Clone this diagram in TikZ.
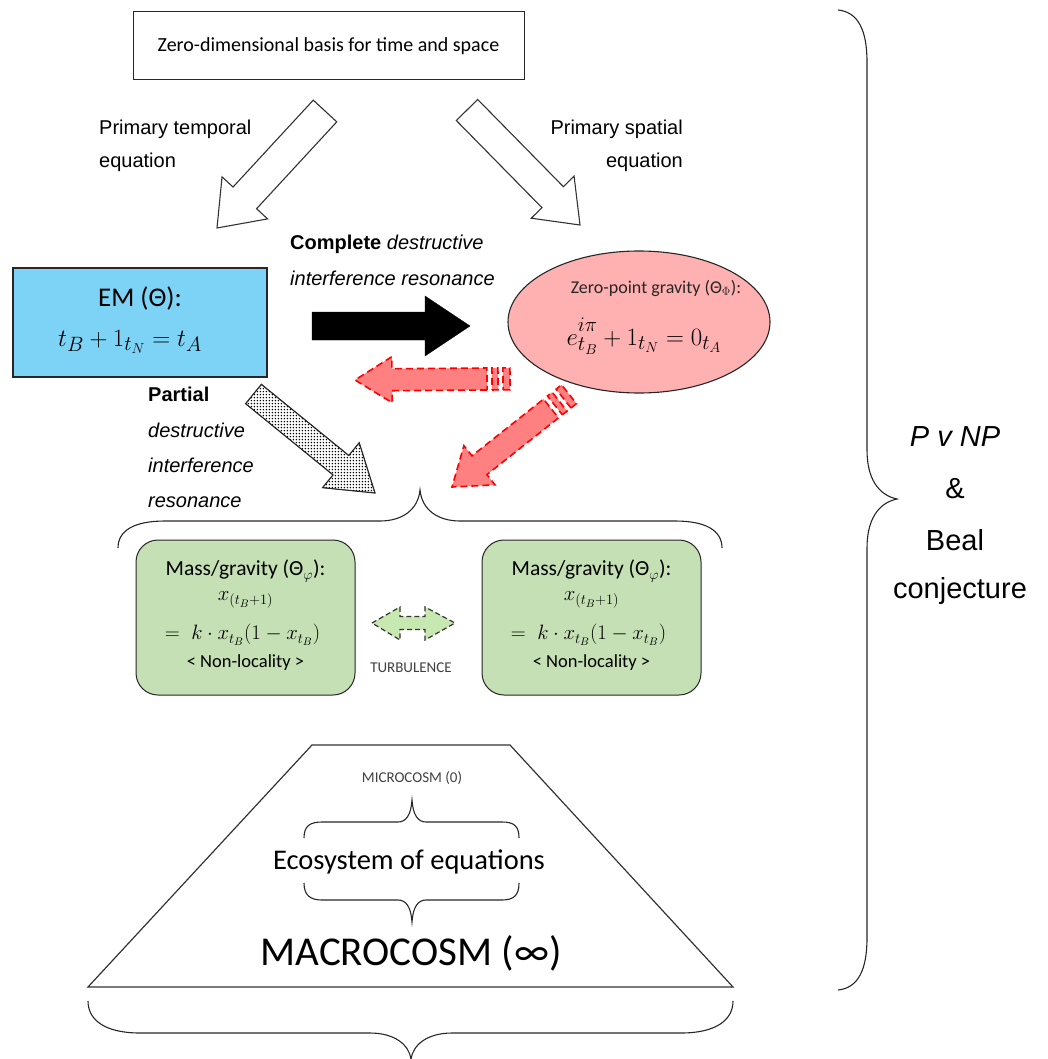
\documentclass[tikz,border=0pt]{standalone}
\usepackage{fontspec}
\setmainfont{Carlito}
\newfontfamily\arialf{Liberation Sans}
\usetikzlibrary{calc,patterns.meta,shapes.geometric}
\definecolor{emblue}{RGB}{125,211,245}
\definecolor{zpink}{RGB}{255,176,176}
\definecolor{mgreen}{RGB}{197,224,180}
\definecolor{rfill}{RGB}{255,128,128}
\definecolor{tgreen}{RGB}{200,232,178}
\definecolor{rline}{RGB}{255,0,0}
\tikzdeclarepattern{
  name=coarsedots,
  type=uncolored,
  bounding box={(0pt,0pt) and (3.4pt,3.4pt)},
  tile size={(3.4pt,3.4pt)},
  code={\fill (1.7pt,1.7pt) circle (0.9pt);}
}
% block arrow: #1 tail, #2 tip, #3 half shaft, #4 half head, #5 head length, #6 style
\newcommand{\blockarr}[6]{%
  \draw[#6] ($(#1)!#3!90:(#2)$) -- ($(#2)!#5!(#1)!#3!-90:(#1)$) -- ($(#2)!#5!(#1)!#4!-90:(#1)$)
    -- (#2) -- ($(#2)!#5!(#1)!#4!90:(#1)$) -- ($(#2)!#5!(#1)!#3!90:(#1)$)
    -- ($(#1)!#3!-90:(#2)$) -- cycle;}
% stripe behind tail: #1 tail, #2 tip, #3 d1, #4 d2, #5 half width, #6 style
\newcommand{\stripebar}[6]{%
  \draw[#6] ($(#1)!-#3!(#2)!#5!90:(#2)$) -- ($(#1)!-#4!(#2)!#5!90:(#2)$)
    -- ($(#1)!-#4!(#2)!#5!-90:(#2)$) -- ($(#1)!-#3!(#2)!#5!-90:(#2)$) -- cycle;}
\tikzset{
  hollow/.style={draw=black!80, line width=1.1pt, fill=white, line join=miter},
  redarr/.style={draw=rline, fill=rfill, line width=1.6pt, dash pattern=on 7pt off 4pt},
  lbl/.style={font=\arialf\fontsize{20}{24}\selectfont, inner sep=0pt, text height=14pt, text depth=5pt},
  rlbl/.style={font=\arialf\fontsize{29}{34}\selectfont, inner sep=0pt},
  gtxt/.style={inner sep=0pt, font=\fontsize{21.5}{25}\selectfont},
  gbox/.style={draw=black!85, line width=1pt, fill=mgreen, rounded corners=22pt, minimum width=219pt, minimum height=155pt},
  brace/.style={draw=black!85, line width=1.1pt},
}
\begin{document}
\begin{tikzpicture}[x=1pt, y=-1pt]
\useasboundingbox (0,0) rectangle (1047,1059);

% top box
\node[draw=black!85, line width=1pt, minimum width=391pt, minimum height=68pt, font=\fontsize{20}{24}\selectfont] (top) at (328.5,46) {Zero-dimensional basis for time and space};

% EM box
\node[draw=black!85, line width=1.4pt, fill=emblue, minimum width=254pt, minimum height=109pt] (em) at (140,322.5) {};
\node[inner sep=0pt, font=\fontsize{27}{30}\selectfont] (emt) at (140,298) {EM (Θ):};
\node[inner sep=0pt, font=\fontsize{31}{34}\selectfont] (emeq) at (130,342) {$t_B + 1_{t_N} = t_A$};

% ellipse
\node[ellipse, draw=black!85, line width=1.1pt, fill=zpink, minimum width=262pt, minimum height=142pt] (zp) at (639,322) {};
\node[inner sep=0pt, font=\fontsize{18}{21}\selectfont, text=black!85] (zpt) at (656,288) {Zero-point gravity (Θ$_\Phi$):};
\node[inner sep=0pt, font=\fontsize{30}{33}\selectfont] (zpeq) at (644,335) {$e^{i\pi\mathstrut}_{t_B} + 1_{t_N} = 0_{t_A}$};

% labels
\node[lbl, anchor=west] (pt1) at (99,130) {Primary temporal};
\node[lbl, anchor=west] (pt2) at (99,163) {equation};
\node[lbl, anchor=east] (ps1) at (683,130) {Primary spatial};
\node[lbl, anchor=east] (ps2) at (683,163) {equation};
\node[lbl, anchor=west] (cd1) at (290,245) {\textbf{Complete} \textit{destructive}};
\node[lbl, anchor=west] (cd2) at (290,281) {\textit{interference resonance}};
\node[lbl, anchor=west] (pd1) at (148,397) {\textbf{Partial}};
\node[lbl, anchor=west] (pd2) at (148,433) {\textit{destructive}};
\node[lbl, anchor=west] (pd3) at (148,468) {\textit{interference}};
\node[lbl, anchor=west] (pd4) at (148,503) {\textit{resonance}};

% hollow arrows
\coordinate (lt) at (325,111); \coordinate (lp) at (217,228);
\coordinate (rt) at (467,110); \coordinate (rp) at (580,225);
\blockarr{lt}{lp}{16pt}{31pt}{41pt}{hollow}
\blockarr{rt}{rp}{15pt}{30pt}{39pt}{hollow}

% black arrow
\coordinate (bt) at (312,326); \coordinate (bp) at (470,326);
\blockarr{bt}{bp}{14pt}{30pt}{45pt}{fill=black, draw=black}

% red left arrow (striped)
\coordinate (r1t) at (487,379); \coordinate (r1p) at (355,380);
\blockarr{r1t}{r1p}{11pt}{23pt}{37pt}{redarr}
\stripebar{r1t}{r1p}{5pt}{11pt}{11pt}{redarr}
\stripebar{r1t}{r1p}{16pt}{23pt}{11pt}{redarr}

% red diagonal arrow (striped)
\coordinate (r2t) at (551,408.5); \coordinate (r2p) at (452,487);
\blockarr{r2t}{r2p}{12pt}{25pt}{35pt}{redarr}
\stripebar{r2t}{r2p}{5pt}{11pt}{12pt}{redarr}
\stripebar{r2t}{r2p}{16pt}{23pt}{12pt}{redarr}

% dotted arrow
\coordinate (dt) at (253.5,394); \coordinate (dp) at (375,493);
\blockarr{dt}{dp}{12.5pt}{29pt}{44pt}{fill=white}
\blockarr{dt}{dp}{12.5pt}{29pt}{44pt}{pattern={coarsedots}, pattern color=black, draw=black!85, line width=1.1pt}

% brace above green boxes
\coordinate (ba1) at (118,548); \coordinate (ba2) at (420,490); \coordinate (ba3) at (722,548);
\draw[brace] (ba1) .. controls (118,530) and (135,521) .. (165,521) -- (380,521)
  .. controls (402,521) and (418,510) .. (ba2) .. controls (422,510) and (438,521) .. (460,521)
  -- (675,521) .. controls (705,521) and (722,530) .. (ba3);

% green boxes
\node[gbox] (g1) at (245.5,617.5) {};
\node[gbox] (g2) at (591.5,617.5) {};
\foreach \n/\cx in {a/245.5, b/591.5}{
  \node[gtxt] (m1\n) at (\cx,571) {Mass/gravity (Θ$_\varphi$):};
  \node[gtxt] (m2\n) at (\cx,600) {$x_{(t_B+1)}$};
  \node[gtxt] (m3\n) at (\cx-3,635) {$=\;k\cdot x_{t_B}(1-x_{t_B})$};
  \node[gtxt, font=\fontsize{18.5}{22}\selectfont] (m4\n) at (\cx,663) {< Non-locality >};
}

% turbulence double arrow
\draw[draw=black!80, fill=tgreen, line width=1.2pt, dash pattern=on 5pt off 3pt]
  (372,623) -- (400,607) -- (400,616.5) -- (425,616.5) -- (425,607) -- (455,623)
  -- (425,640) -- (425,629.5) -- (400,629.5) -- (400,640) -- cycle;
\node[inner sep=0pt, font=\fontsize{15}{18}\selectfont, text=black!75] (turb) at (411,668) {TURBULENCE};

% trapezoid
\coordinate (tz1) at (312,745); \coordinate (tz2) at (510,745);
\coordinate (tz3) at (733,987); \coordinate (tz4) at (88,987);
\draw[draw=black!80, line width=1.2pt] (tz1) -- (tz2) -- (tz3) -- (tz4) -- cycle;
\node[inner sep=0pt, font=\fontsize{15}{18}\selectfont, text=black!75] (micro) at (412,778) {MICROCOSM (0)};
\node[inner sep=0pt, font=\fontsize{28.5}{33}\selectfont] (eco) at (409,862) {Ecosystem of equations};
\node[inner sep=0pt, font=\fontsize{41}{47}\selectfont] (macro) at (411,953) {MACROCOSM (∞)};
\coordinate (sb1) at (304,838); \coordinate (sb2) at (412,800); \coordinate (sb3) at (519,838);
\draw[brace] (sb1) .. controls (304,826) and (310,822) .. (322,822) -- (398,822)
  .. controls (406,822) and (411,815) .. (sb2) .. controls (413,815) and (418,822) .. (426,822)
  -- (502,822) .. controls (514,822) and (519,826) .. (sb3);
\coordinate (sc1) at (304,883); \coordinate (sc2) at (412,922); \coordinate (sc3) at (519,883);
\draw[brace] (sc1) .. controls (304,895) and (310,900) .. (322,900) -- (398,900)
  .. controls (406,900) and (411,907) .. (sc2) .. controls (413,907) and (418,900) .. (426,900)
  -- (502,900) .. controls (514,900) and (519,895) .. (sc3);

% bottom brace
\coordinate (bb1) at (88,1001); \coordinate (bb2) at (411,1059); \coordinate (bb3) at (733,1001);
\draw[brace] (bb1) .. controls (88,1020) and (105,1033) .. (140,1033) -- (370,1033)
  .. controls (395,1033) and (409,1045) .. (bb2) .. controls (413,1045) and (427,1033) .. (452,1033)
  -- (681,1033) .. controls (716,1033) and (733,1020) .. (bb3);

% right brace
\coordinate (rb1) at (838,10); \coordinate (rb2) at (897,499); \coordinate (rb3) at (838,990);
\draw[brace] (rb1) .. controls (858,12) and (867,30) .. (867,62) -- (867,450)
  .. controls (867,478) and (878,495) .. (rb2) .. controls (878,503) and (867,520) .. (867,548)
  -- (867,938) .. controls (867,970) and (858,988) .. (rb3);
\node[rlbl] (pnp) at (955,437) {\textit{P v NP}};
\node[rlbl] (amp) at (955,489) {\&};
\node[rlbl] (beal) at (955,540) {Beal};
\node[rlbl] (conj) at (960,591) {conjecture};
\end{tikzpicture}
\end{document}
